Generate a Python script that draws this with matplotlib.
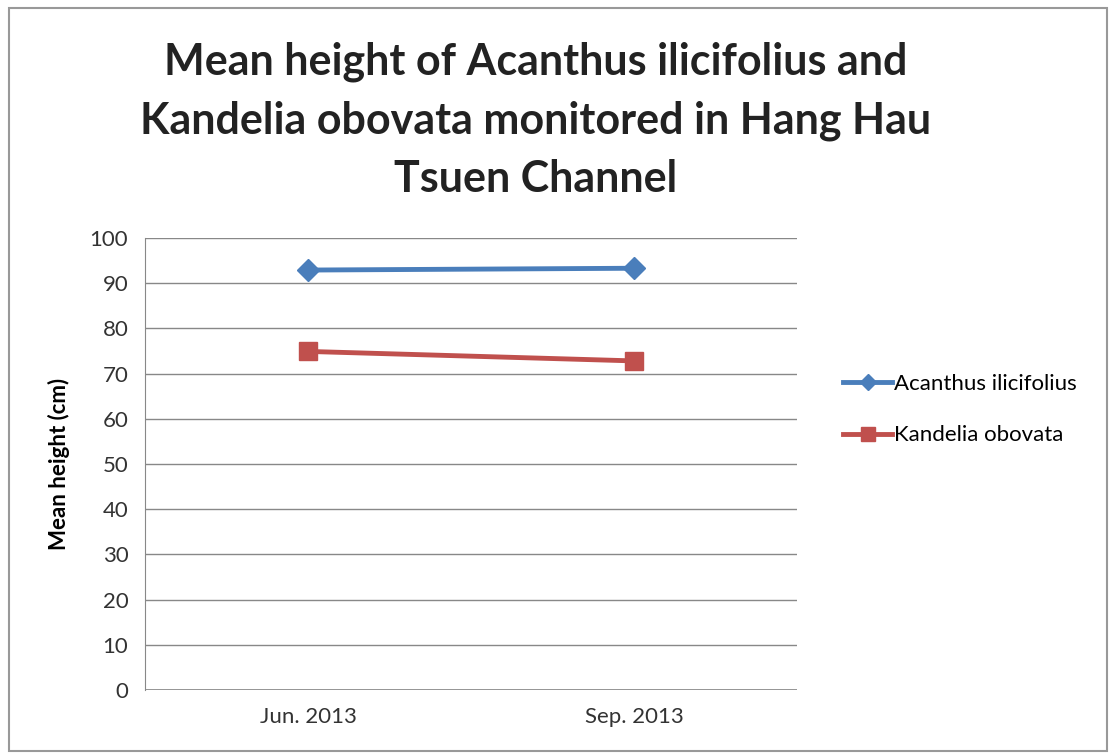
import matplotlib.pyplot as plt
from matplotlib.patches import Rectangle

# data
months = ["Jun. 2013", "Sep. 2013"]
acanthus = [92.9, 93.3]
kandelia = [74.9, 72.8]

plt.rcParams['font.family'] = ['Lato', 'DejaVu Sans']

fig = plt.figure(figsize=(11.09, 7.54), dpi=100)
ax = fig.add_axes([0.1307, 0.0849, 0.588, 0.5995])

x = [0, 1]
ax.plot(x, acanthus, color='#4A7EBB', linewidth=3.5, marker='D', markersize=11,
        label='Acanthus ilicifolius')
ax.plot(x, kandelia, color='#C0504D', linewidth=3.5, marker='s', markersize=13,
        label='Kandelia obovata')

ax.set_xlim(-0.5, 1.5)
ax.set_ylim(0, 100)
ax.set_yticks(range(0, 101, 10))
ax.set_xticks(x)
ax.set_xticklabels(months)
ax.tick_params(axis='both', labelsize=16, colors='#333333', length=0, pad=12)
ax.grid(axis='y', color='#888888', linewidth=1)
ax.set_axisbelow(True)
for s in ['top', 'right', 'bottom']:
    ax.spines[s].set_visible(False)
ax.spines['left'].set_color('#888888')
ax.axhline(0, color='#888888', linewidth=1.2)

ax.set_ylabel("Mean height (cm)", fontsize=16, fontweight='bold', labelpad=14)

fig.text(0.483, 0.84, "Mean height of Acanthus ilicifolius and\n"
         "Kandelia obovata monitored in Hang Hau\nTsuen Channel",
         ha='center', va='center', fontsize=31, fontweight='bold',
         color='#222222', linespacing=1.55)

leg = ax.legend(loc='center left', bbox_to_anchor=(1.04, 0.62), frameon=False,
                fontsize=16, handlelength=2.2, labelspacing=1.4,
                handletextpad=0.1, markerscale=0.75)

fig.patches.append(Rectangle((0.008, 0.004), 0.99, 0.985, transform=fig.transFigure,
                             fill=False, edgecolor='#999999', linewidth=1.5))

fig.savefig("out.png", dpi=100)
